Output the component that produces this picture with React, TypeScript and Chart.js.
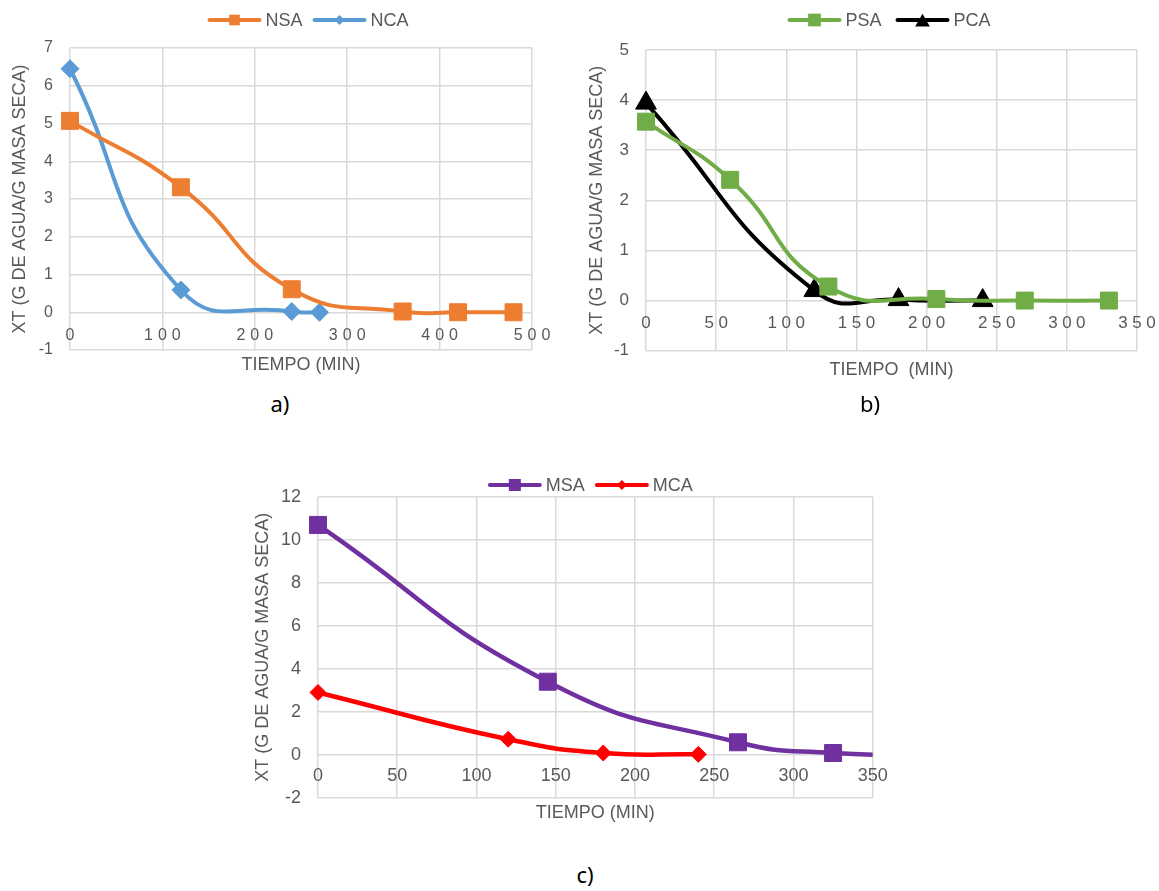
import React, { useEffect, useRef } from 'react';
import { Chart, registerables } from 'chart.js';

Chart.register(...registerables);

const FONT = '"Liberation Sans", Arial, Helvetica, sans-serif';
const TEXT = '#595959';
const GRID = '#d9d9d9';

// ---------- Data: panel a ----------
const nsaTime = [0, 120, 240, 360, 420, 480];
const nsaXt = [5.07, 3.31, 0.61, 0.02, 0.0, 0.0];
const ncaTime = [0, 120, 240, 270];
const ncaXt = [6.45, 0.59, 0.02, 0.0];

// ---------- Data: panel b ----------
const psaTime = [0, 60, 130, 207, 270, 330];
const psaXt = [3.57, 2.41, 0.28, 0.03, 0.0, 0.0];
const pcaTime = [0, 120, 180, 240];
const pcaXt = [3.94, 0.2, 0.02, 0.0];

// ---------- Data: panel c ----------
const msaTime = [0, 145, 265, 325, 385];
const msaXt = [10.7, 3.4, 0.58, 0.08, 0.0];
const mcaTime = [0, 120, 180, 240];
const mcaXt = [2.9, 0.72, 0.08, 0.02];

// axis ranges
const axisA = { xMin: 0, xMax: 500, xStep: 100, yMin: -1, yMax: 7, yStep: 1 };
const axisB = { xMin: 0, xMax: 350, xStep: 50, yMin: -1, yMax: 5, yStep: 1 };
const axisC = { xMin: 0, xMax: 350, xStep: 50, yMin: -2, yMax: 12, yStep: 2 };

const Y_TITLE = 'XT (G DE AGUA/G MASA SECA)';

type SeriesCfg = {
  label: string;
  time: number[];
  xt: number[];
  color: string;
  style: string;
  radius: number;
  legendRadius: number;
};

type PanelCfg = {
  left: number;
  top: number;
  w: number;
  h: number;
  series: SeriesCfg[];
  axis: typeof axisA;
  xTitle: string;
  padTop: number;
  padRight: number;
  yWidth: number;
  xHeight: number;
  yTitlePad: number;
  xTitlePad: number;
  tickSize: number;
  xTickSize: number;
  spacing: number;
  labelOffset: number;
  legendY: number;
  legendDx: number;
  legendGap: number;
  lineWidth: number;
  tension: number;
};

function drawMarker(ctx: CanvasRenderingContext2D, style: string, x: number, y: number, r: number, color: string) {
  ctx.beginPath();
  ctx.fillStyle = color;
  if (style === 'rect') {
    const s = r * Math.SQRT1_2;
    ctx.rect(x - s, y - s, 2 * s, 2 * s);
  } else if (style === 'rectRot') {
    ctx.moveTo(x - r, y);
    ctx.lineTo(x, y - r);
    ctx.lineTo(x + r, y);
    ctx.lineTo(x, y + r);
    ctx.closePath();
  } else {
    for (let i = 0; i < 3; i++) {
      const a = (i * 2 * Math.PI) / 3;
      const px = x + Math.sin(a) * r;
      const py = y - Math.cos(a) * r + r * 0.25;
      if (i === 0) ctx.moveTo(px, py);
      else ctx.lineTo(px, py);
    }
    ctx.closePath();
  }
  ctx.fill();
}

const extrasPlugin = {
  id: 'excelExtras',
  afterDraw(chart: any, _args: any, opts: any) {
    const { ctx, chartArea } = chart;
    const xs = chart.scales.x;
    const ys = chart.scales.y;
    const y0 = ys.getPixelForValue(0);
    ctx.save();
    // x tick labels next to the y = 0 line
    ctx.font = `${opts.xTickSize}px ${FONT}`;
    ctx.fillStyle = TEXT;
    ctx.textBaseline = 'middle';
    ctx.textAlign = 'left';
    for (const t of xs.ticks) {
      const label = String(t.value);
      const chars = label.split('');
      const widths = chars.map((c: string) => ctx.measureText(c).width);
      const total = widths.reduce((a: number, b: number) => a + b, 0) + opts.spacing * (chars.length - 1);
      let px = xs.getPixelForValue(t.value) - total / 2;
      chars.forEach((c: string, i: number) => {
        ctx.fillText(c, px, y0 + opts.labelOffset);
        px += widths[i] + opts.spacing;
      });
    }
    // legend
    const lineLen = 54;
    const gap = 4;
    ctx.font = `18px ${FONT}`;
    const items = chart.data.datasets.map((d: any) => ({
      label: d.label,
      color: d.borderColor,
      style: d.pointStyle,
      lr: d.legendRadius,
      tw: ctx.measureText(d.label).width,
    }));
    const total =
      items.reduce((a: number, it: any) => a + lineLen + gap + it.tw, 0) + opts.legendGap * (items.length - 1);
    let lx = (chartArea.left + chartArea.right) / 2 + opts.legendDx - total / 2;
    const ly = opts.legendY;
    for (const it of items) {
      ctx.beginPath();
      ctx.strokeStyle = it.color;
      ctx.lineWidth = 4;
      ctx.lineCap = 'round';
      ctx.moveTo(lx + 2, ly);
      ctx.lineTo(lx + lineLen - 2, ly);
      ctx.stroke();
      drawMarker(ctx, it.style, lx + lineLen / 2, ly, it.lr, it.color);
      ctx.fillStyle = TEXT;
      ctx.fillText(it.label, lx + lineLen + gap, ly + 1);
      lx += lineLen + gap + it.tw + opts.legendGap;
    }
    ctx.restore();
  },
};

function Panel({ cfg }: { cfg: PanelCfg }) {
  const ref = useRef<HTMLCanvasElement>(null);
  useEffect(() => {
    const canvas = ref.current;
    if (!canvas) return;
    const ax = cfg.axis;
    const chart = new Chart(canvas, {
      type: 'line',
      data: {
        datasets: cfg.series.map((s) => ({
          label: s.label,
          data: s.time.map((t, i) => ({ x: t, y: s.xt[i] })),
          borderColor: s.color,
          backgroundColor: s.color,
          pointBackgroundColor: s.color,
          pointBorderColor: s.color,
          pointBorderWidth: 1,
          pointStyle: s.style,
          pointRadius: s.radius,
          borderWidth: cfg.lineWidth,
          tension: cfg.tension,
          fill: false,
          clip: { left: 20, top: 20, right: 0, bottom: 20 },
          legendRadius: s.legendRadius,
        })) as any,
      },
      options: {
        responsive: false,
        animation: false,
        devicePixelRatio: 1,
        layout: { padding: { top: cfg.padTop, right: cfg.padRight, left: 0, bottom: 0 } },
        plugins: {
          legend: { display: false },
          tooltip: { enabled: false },
          excelExtras: {
            xTickSize: cfg.xTickSize,
            spacing: cfg.spacing,
            labelOffset: cfg.labelOffset,
            legendY: cfg.legendY,
            legendDx: cfg.legendDx,
            legendGap: cfg.legendGap,
          },
        } as any,
        scales: {
          x: {
            type: 'linear',
            position: 'bottom',
            min: ax.xMin,
            max: ax.xMax,
            ticks: { display: false, stepSize: ax.xStep },
            grid: { color: GRID, lineWidth: 1.5, drawTicks: false },
            border: { display: false },
            title: {
              display: true,
              text: cfg.xTitle,
              color: TEXT,
              font: { family: FONT, size: 18 },
              padding: { top: 0, bottom: cfg.xTitlePad },
            },
            afterFit: (scale: any) => {
              scale.height = cfg.xHeight;
            },
          },
          y: {
            type: 'linear',
            min: ax.yMin,
            max: ax.yMax,
            ticks: {
              stepSize: ax.yStep,
              color: TEXT,
              padding: 17,
              font: { family: FONT, size: cfg.tickSize },
            },
            grid: { color: GRID, lineWidth: 1.5, drawTicks: false },
            border: { display: false },
            title: {
              display: true,
              text: Y_TITLE,
              color: TEXT,
              font: { family: FONT, size: 18 },
              padding: { top: cfg.yTitlePad, bottom: 0 },
            },
            afterFit: (scale: any) => {
              scale.width = cfg.yWidth;
            },
          },
        },
      },
      plugins: [extrasPlugin as any],
    });
    return () => chart.destroy();
  }, [cfg]);
  return (
    <canvas
      ref={ref}
      width={cfg.w}
      height={cfg.h}
      style={{ position: 'absolute', left: cfg.left, top: cfg.top, width: cfg.w, height: cfg.h }}
    />
  );
}

const panelA: PanelCfg = {
  left: 0, top: 0, w: 580, h: 385,
  series: [
    { label: 'NSA', time: nsaTime, xt: nsaXt, color: '#ED7D31', style: 'rect', radius: 12, legendRadius: 7.5 },
    { label: 'NCA', time: ncaTime, xt: ncaXt, color: '#5B9BD5', style: 'rectRot', radius: 9, legendRadius: 5 },
  ],
  axis: axisA, xTitle: 'TIEMPO (MIN)',
  padTop: 48, padRight: 48, yWidth: 70, xHeight: 35, yTitlePad: 9.2, xTitlePad: 9.2,
  tickSize: 16, xTickSize: 16, spacing: 5, labelOffset: 23,
  legendY: 20, legendDx: 7, legendGap: 10, lineWidth: 4, tension: 0.5,
};

const panelB: PanelCfg = {
  left: 580, top: 0, w: 579, h: 390,
  series: [
    { label: 'PSA', time: psaTime, xt: psaXt, color: '#70AD47', style: 'rect', radius: 12, legendRadius: 9 },
    { label: 'PCA', time: pcaTime, xt: pcaXt, color: '#000000', style: 'triangle', radius: 12, legendRadius: 8.5 },
  ],
  axis: axisB, xTitle: 'TIEMPO  (MIN)',
  padTop: 50, padRight: 22, yWidth: 66, xHeight: 39.3, yTitlePad: 6.2, xTitlePad: 9.2,
  tickSize: 17, xTickSize: 17, spacing: 4.5, labelOffset: 22.6,
  legendY: 20, legendDx: -2.5, legendGap: 14, lineWidth: 4, tension: 0.5,
};

const panelC: PanelCfg = {
  left: 240, top: 460, w: 680, h: 375,
  series: [
    { label: 'MSA', time: msaTime, xt: msaXt, color: '#7030A0', style: 'rect', radius: 12, legendRadius: 8.5 },
    { label: 'MCA', time: mcaTime, xt: mcaXt, color: '#FF0000', style: 'rectRot', radius: 8, legendRadius: 5 },
  ],
  axis: axisC, xTitle: 'TIEMPO (MIN)',
  padTop: 37, padRight: 47.3, yWidth: 78, xHeight: 37.3, yTitlePad: 12.2, xTitlePad: 11.6,
  tickSize: 18, xTickSize: 18, spacing: 0, labelOffset: 21,
  legendY: 25, legendDx: -5, legendGap: 10, lineWidth: 4.5, tension: 0.5,
};

const captionStyle = (x: number, y: number): React.CSSProperties => ({
  position: 'absolute',
  left: x - 20,
  top: y - 16,
  width: 40,
  height: 32,
  lineHeight: '32px',
  textAlign: 'center',
  fontFamily: '"Noto Sans", "Open Sans", sans-serif',
  fontSize: 22,
  color: '#000',
});

export default function App() {
  return (
    <div style={{ position: 'absolute', left: 0, top: 0, width: 1159, height: 891, background: '#fff', overflow: 'hidden' }}>
      <Panel cfg={panelA} />
      <Panel cfg={panelB} />
      <Panel cfg={panelC} />
      <div style={captionStyle(280, 403)}>a)</div>
      <div style={captionStyle(870, 403)}>b)</div>
      <div style={captionStyle(585, 874)}>c)</div>
    </div>
  );
}
